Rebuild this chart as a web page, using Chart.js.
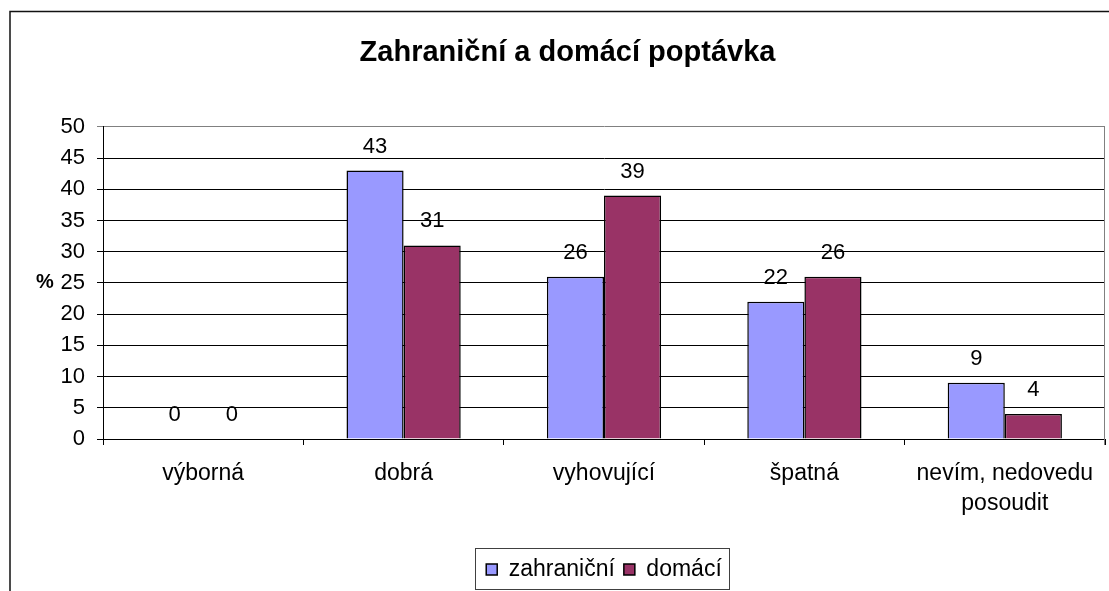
<!DOCTYPE html>
<html>
<head>
<meta charset="utf-8">
<script src="https://cdn.jsdelivr.net/npm/chart.js@4/dist/chart.umd.min.js"></script>
<style>
  html, body { margin: 0; padding: 0; background: #fff; }
  #wrap { width: 1109px; height: 591px; position: relative; }
</style>
</head>
<body>
<div id="wrap"><canvas id="c" width="1109" height="591"></canvas></div>
<script>
const chartTitle = 'Zahraniční a domácí poptávka';
const categories = ['výborná', 'dobrá', 'vyhovující', 'špatná', ['nevím, nedovedu', 'posoudit']];
const seriesNames = ['zahraniční', 'domácí'];
const zahranicni = [0, 43, 26, 22, 9];
const domaci = [0, 31, 39, 26, 4];
const seriesColors = ['#9999FF', '#993366'];
const yTicks = { min: 0, max: 50, step: 5 };
const yAxisLabel = '%';

const FONT = "'Liberation Sans', Arial, sans-serif";

const framePlugin = {
  id: 'frame',
  beforeDraw(chart) {
    const ctx = chart.ctx;
    ctx.save();
    ctx.fillStyle = '#fff';
    ctx.fillRect(0, 0, chart.width, chart.height);
    ctx.strokeStyle = '#111';
    ctx.lineWidth = 1.5;
    ctx.beginPath();
    ctx.moveTo(10, chart.height + 2);
    ctx.lineTo(10, 11.5);
    ctx.lineTo(chart.width + 2, 11.5);
    ctx.stroke();
    ctx.restore();
  },
  afterDraw(chart) {
    const ctx = chart.ctx;
    const a = chart.chartArea;
    ctx.save();
    // right border of plot area
    ctx.strokeStyle = '#808080';
    ctx.lineWidth = 1;
    ctx.beginPath();
    ctx.moveTo(Math.round(a.right) - 0.5, a.top);
    ctx.lineTo(Math.round(a.right) - 0.5, a.bottom + 6);
    ctx.stroke();
    // y axis label "%"
    ctx.fillStyle = '#000';
    ctx.font = 'bold 20px ' + FONT;
    ctx.textAlign = 'center';
    ctx.textBaseline = 'middle';
    const yScale = chart.scales.y;
    ctx.fillText(yAxisLabel, 45, yScale.getPixelForValue(25));
    // data labels
    ctx.font = '22px ' + FONT;
    ctx.textBaseline = 'middle';
    chart.data.datasets.forEach((ds, di) => {
      const meta = chart.getDatasetMeta(di);
      meta.data.forEach((bar, i) => {
        ctx.fillText(String(ds.data[i]), bar.x, bar.y - 24);
      });
    });
    // legend border
    const lg = chart.legend;
    if (lg && lg.legendHitBoxes && lg.legendHitBoxes.length) {
      const hb = lg.legendHitBoxes;
      const l = hb[0].left - 11;
      const r = hb[hb.length - 1].left + hb[hb.length - 1].width + 7;
      const t = hb[0].top - 10;
      const b = hb[0].top + hb[0].height + 8;
      ctx.strokeStyle = '#404040';
      ctx.strokeRect(Math.round(l) + 0.5, Math.round(t) + 0.5, Math.round(r - l), Math.round(b - t));
    }
    ctx.restore();
  }
};

new Chart(document.getElementById('c'), {
  type: 'bar',
  data: {
    labels: categories,
    datasets: [
      { label: seriesNames[0], data: zahranicni, backgroundColor: seriesColors[0], borderColor: '#000', borderWidth: 1.5 },
      { label: seriesNames[1], data: domaci, backgroundColor: seriesColors[1], borderColor: '#000', borderWidth: 1.5 }
    ]
  },
  options: {
    responsive: false,
    animation: false,
    devicePixelRatio: 1,
    layout: { padding: { left: 30, right: 4, top: 0, bottom: 0 } },
    datasets: { bar: { categoryPercentage: 0.57, barPercentage: 1.0 } },
    scales: {
      x: {
        afterFit: (s) => { s.height = 110; },
        grid: { offset: true, drawOnChartArea: false, drawTicks: true, tickLength: 6, color: '#000' },
        border: { display: true, color: '#000', width: 1 },
        ticks: { color: '#000', font: { family: FONT, size: 23, lineHeight: 1.3 }, padding: 14, maxRotation: 0, autoSkip: false }
      },
      y: {
        min: yTicks.min, max: yTicks.max,
        afterFit: (s) => { s.width = 73; },
        grid: { color: (c) => (c.tick && c.tick.value === yTicks.max ? '#808080' : '#000'), tickLength: 6, drawTicks: true },
        border: { display: true, color: '#000', width: 1 },
        ticks: { stepSize: yTicks.step, color: '#000', font: { family: FONT, size: 22 }, padding: 12 }
      }
    },
    plugins: {
      title: {
        display: true, text: chartTitle, color: '#000',
        font: { family: FONT, size: 29, weight: 'bold', lineHeight: 1.2 },
        padding: { top: 36, bottom: 56 }
      },
      legend: {
        position: 'bottom', fullSize: false,
        labels: { color: '#000', font: { family: FONT, size: 23 }, boxWidth: 11, boxHeight: 11, padding: 9 }
      },
      tooltip: { enabled: false }
    }
  },
  plugins: [framePlugin]
});
</script>
</body>
</html>
